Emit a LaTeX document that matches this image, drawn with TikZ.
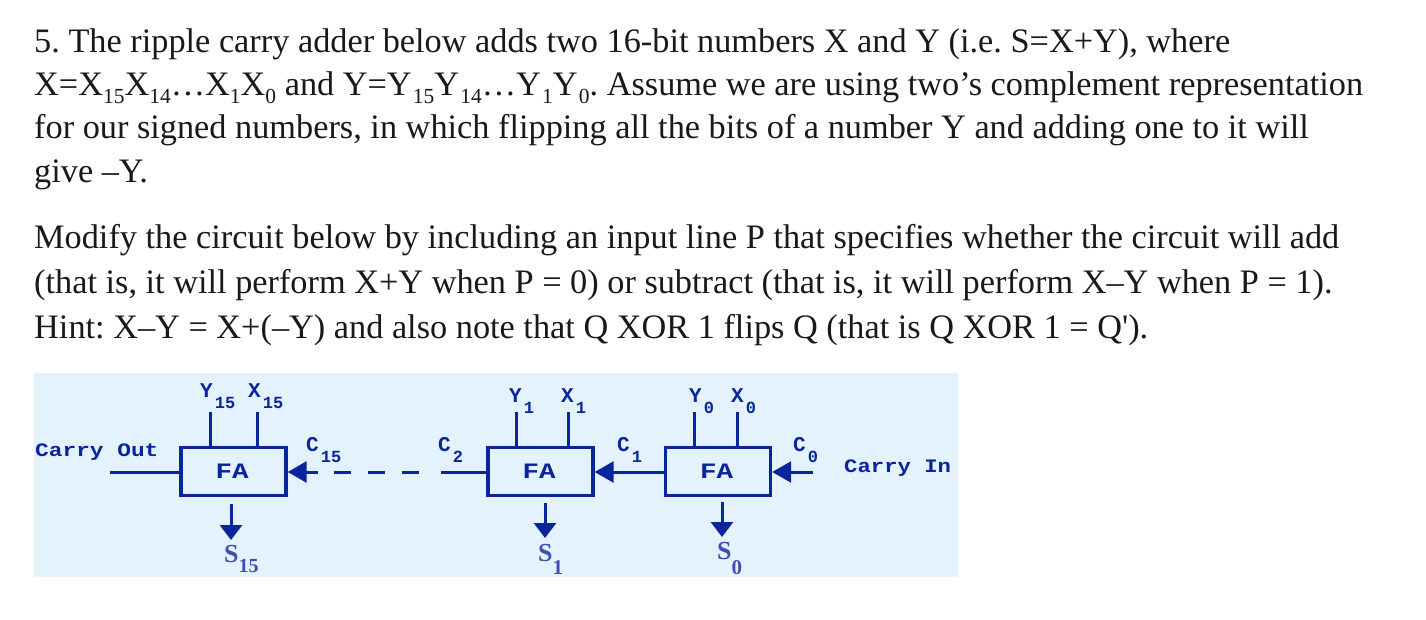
\documentclass[tikz,border=0pt]{standalone}
\usepackage{fontspec}
\setmainfont{Liberation Serif}
\newfontfamily\monof{Liberation Mono}
\newfontfamily\rawserif{Liberation Serif}
\usetikzlibrary{arrows.meta}
\definecolor{circ}{HTML}{08259B}
\definecolor{panel}{HTML}{E3F2FD}
\definecolor{sumc}{HTML}{3F4FB0}
\frenchspacing
\newcommand{\dn}[1]{\raisebox{-0.22em}{\fontsize{21.5}{22}\selectfont #1}}
\newcommand{\dnk}[1]{\kern1.2pt\dn{#1}}
\newcommand{\lbl}[2]{{\monof\bfseries #1}\kern2pt\raisebox{-11pt}{\monof\fontsize{17}{17}\selectfont #2}}
\tikzset{
  x=1pt,y=-1pt,
  textline/.style={anchor=base west,inner sep=0pt,text=black!90,font=\fontsize{34.3}{38}\selectfont},
  fa/.style={draw=circ,line width=3.4pt,fill=panel,minimum width=105pt,minimum height=48pt,inner sep=0pt,text=circ,font=\monof\bfseries\fontsize{22}{22}\selectfont},
  wire/.style={draw=circ,line width=3pt},
  flow/.style={wire,-{Triangle[length=19pt,width=21pt]}},
  sumflow/.style={wire,-{Triangle[length=15pt,width=22pt]}},
  dashwire/.style={wire,dash pattern=on 17pt off 17pt},
  pin/.style={inner sep=0pt,anchor=base west,text=circ,font=\monof\bfseries\fontsize{21}{21}\selectfont},
  name label/.style={inner sep=0pt,anchor=base west,text=circ,font=\monof\bfseries\fontsize{19}{19}\selectfont,xscale=1.2},
  in label/.style={name label,xscale=0.975},
  sumlabel/.style={inner sep=0pt,anchor=base west,text=sumc,font=\bfseries\fontsize{26}{26}\selectfont},
}
\newcommand{\falabel}{\kern-3pt\raisebox{-2pt}{\scalebox{1.25}[1]{FA}}}
\begin{document}
\begin{tikzpicture}
\useasboundingbox (0,0) rectangle (1426,620);
\fill[white] (0,0) rectangle (1426,620);
\node[textline] (l1) at (34,53) {5. The ripple carry adder below adds two 16-bit numbers X and Y (i.e. S=X+Y), where};
\node[textline] (l2) at (34,96) {X=X\dn{15}X\dn{14}\ldots X\dn{1}X\dn{0} and Y=Y\dnk{15}Y\dnk{14}\ldots Y\dnk{1}Y\dnk{0}. Assume we are using two’s complement representation};
\node[textline] (l3) at (34,139) {for our signed numbers, in which flipping all the bits of a number Y and adding one to it will};
\node[textline] (l4) at (34,183) {give –Y.};
\node[textline] (l5) at (34,249) {Modify the circuit below by including an input line P that specifies whether the circuit will add};
\node[textline] (l6) at (34,293) {(that is, it will perform X+Y when P = 0) or subtract (that is, it will perform X–Y when P = 1).};
\node[textline] (l7) at (34,338) {Hint: X–Y = X+(–Y) and also note that Q XOR 1 flips Q (that is Q XOR 1 = Q{\rawserif\char"27}).};

\fill[panel] (34,373) rectangle (958,577);

\node[fa] (fa15) at (233.5,471.5) {\falabel};
\node[fa] (fa1) at (540.5,471.5) {\falabel};
\node[fa] (fa0) at (718,471.5) {\falabel};

% inputs
\coordinate (y15) at (210,412); \coordinate (x15) at (257,412);
\coordinate (y1) at (516,412);  \coordinate (x1) at (568,412);
\coordinate (y0) at (694,412);  \coordinate (x0) at (737,412);
\draw[wire] (y15) -- (y15 |- fa15.north);
\draw[wire] (x15) -- (x15 |- fa15.north);
\draw[wire] (y1) -- (y1 |- fa1.north);
\draw[wire] (x1) -- (x1 |- fa1.north);
\draw[wire] (y0) -- (y0 |- fa0.north);
\draw[wire] (x0) -- (x0 |- fa0.north);

% carries
\coordinate (cout) at (110,472);
\coordinate (c15a) at (318,472);
\coordinate (dash1) at (334,472);
\coordinate (dash2) at (419,472);
\coordinate (c2a) at (441,472);
\coordinate (cin) at (813,472);
\draw[wire] (fa15.west |- cout) -- (cout);
\draw[flow] (c15a) -- (fa15.east |- c15a);
\draw[dashwire] (dash1) -- (dash2);
\draw[wire] (fa1.west |- c2a) -- (c2a);
\draw[flow] (fa0.west |- c2a) -- (fa1.east |- c2a);
\draw[flow] (cin) -- (fa0.east |- cin);

% sums
\coordinate (s15t) at (231,504); \coordinate (s15b) at (231,540);
\coordinate (s1t) at (545,503);  \coordinate (s1b) at (545,538);
\coordinate (s0t) at (722,502);  \coordinate (s0b) at (722,537);
\draw[sumflow] (s15t) -- (s15b);
\draw[sumflow] (s1t) -- (s1b);
\draw[sumflow] (s0t) -- (s0b);

% labels
\node[pin] (ly15) at (200,397) {\lbl{Y}{15}};
\node[pin] (lx15) at (248,397) {\lbl{X}{15}};
\node[pin] (ly1) at (509,402) {\lbl{Y}{1}};
\node[pin] (lx1) at (561,402) {\lbl{X}{1}};
\node[pin] (ly0) at (689,402) {\lbl{Y}{0}};
\node[pin] (lx0) at (731,402) {\lbl{X}{0}};
\node[pin] (lc15) at (306,451) {\lbl{C}{15}};
\node[pin] (lc2) at (438,451) {\lbl{C}{2}};
\node[pin] (lc1) at (617,451) {\lbl{C}{1}};
\node[pin] (lc0) at (793,451) {\lbl{C}{0}};
\node[name label] (lout) at (35,456) {Carry Out};
\node[in label] (lin) at (844,472) {Carry In};
\node[sumlabel] (ls15) at (224,562) {S\raisebox{-10pt}{\fontsize{20}{20}\selectfont 15}};
\node[sumlabel] (ls1) at (538,561) {S\raisebox{-13pt}{\fontsize{21}{21}\selectfont 1}};
\node[sumlabel] (ls0) at (717,559) {S\raisebox{-15pt}{\fontsize{21}{21}\selectfont 0}};
\end{tikzpicture}
\end{document}
